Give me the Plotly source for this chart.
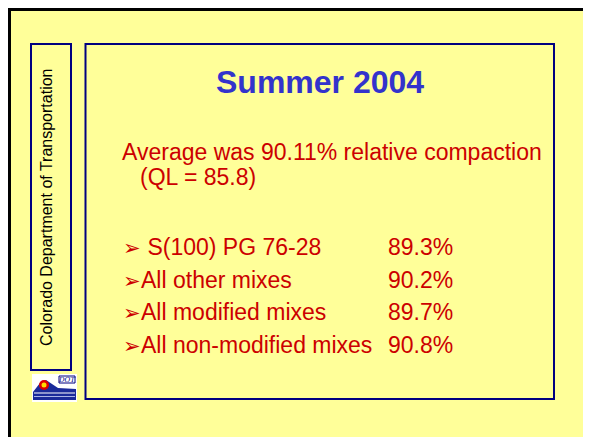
import plotly.graph_objects as go

# slide content
title = "Summer 2004"
intro_lines = ["Average was 90.11% relative compaction", "(QL = 85.8)"]
mix_labels = [" S(100) PG 76-28", "All other mixes", "All modified mixes", "All non-modified mixes"]
mix_values = ["89.3%", "90.2%", "89.7%", "90.8%"]
side_label = "Colorado Department of Transportation"

BG = "#FFFF99"
NAVY = "#000080"
RED = "#CC0000"
BLUE = "#3333CC"
FONT = "Liberation Sans, Arial, sans-serif"

# page body has an 8px margin: shrink the figure so the page does not scroll,
# and offset the axes so data coords equal window pixel coords
OFF = 8
W, H = 591, 445
FIG_W, FIG_H = W - OFF, H - 2 * OFF

fig = go.Figure()

shapes = [
    # outer slide frame (only top/left visible)
    dict(type="path", path="M 9.5 460 L 9.5 9.5 L 610 9.5", line=dict(color="black", width=3)),
    # side box
    dict(type="rect", x0=31, y0=44, x1=71, y1=370, line=dict(color=NAVY, width=2)),
    # main box
    dict(type="rect", x0=85.5, y0=44, x1=554, y1=399, line=dict(color=NAVY, width=2)),
    # logo
    dict(type="rect", x0=32, y0=374, x1=77, y1=402, fillcolor="white", line=dict(width=0)),
    dict(type="path", path="M 33 392 L 40 383 L 46 380 L 52 384 L 58 388 L 76 389 L 76 400 L 33 400 Z",
         fillcolor="#1a2a9a", line=dict(width=0)),
    dict(type="line", x0=34, y0=393, x1=75, y1=393, line=dict(color="white", width=1)),
    dict(type="line", x0=34, y0=396.5, x1=75, y1=396.5, line=dict(color="#aab4e6", width=1)),
    dict(type="circle", x0=39, y0=380, x1=49, y1=390, fillcolor="#dd0000", line=dict(width=0)),
    dict(type="circle", x0=41.5, y0=382.5, x1=46.5, y1=387.5, fillcolor="#ffdd00", line=dict(width=0)),
    dict(type="rect", x0=59, y0=376, x1=75, y1=383, fillcolor="white", line=dict(color=NAVY, width=1)),
]

annotations = [
    dict(x=320, y=82, text="<b>" + title + "</b>", font=dict(size=32, color=BLUE, family=FONT),
         xanchor="center", yanchor="middle"),
    dict(x=120, y=152, text=intro_lines[0], font=dict(size=23, color=RED, family=FONT),
         xanchor="left", yanchor="middle"),
    dict(x=138, y=177, text=intro_lines[1], font=dict(size=23, color=RED, family=FONT),
         xanchor="left", yanchor="middle"),
    dict(x=46, y=208, text=side_label, textangle=-90, font=dict(size=16, color="black", family=FONT),
         xanchor="center", yanchor="middle"),
    dict(x=67, y=379.5, text="<i>DOT</i>", font=dict(size=7, color=NAVY, family="DejaVu Serif"),
         xanchor="center", yanchor="middle"),
]

for i, (lab, val) in enumerate(zip(mix_labels, mix_values)):
    y = 247 + i * 32.7
    annotations.append(dict(x=121, y=y, text="<span style='font-size:21px'>➢</span>" + lab,
                            font=dict(size=23, color=RED, family=FONT), xanchor="left", yanchor="middle"))
    annotations.append(dict(x=386, y=y, text=val, font=dict(size=23, color=RED, family=FONT),
                            xanchor="left", yanchor="middle"))

for a in annotations:
    a.update(showarrow=False, xref="x", yref="y")

fig.update_layout(
    width=FIG_W, height=FIG_H,
    margin=dict(l=0, r=0, t=0, b=0),
    paper_bgcolor=BG, plot_bgcolor=BG,
    xaxis=dict(range=[OFF, W], visible=False, fixedrange=True),
    yaxis=dict(range=[H - OFF, OFF], visible=False, fixedrange=True),
    shapes=shapes, annotations=annotations,
    showlegend=False,
)

fig.write_html("out.html", config={"displayModeBar": False, "responsive": False},
               default_width=f"{FIG_W}px", default_height=f"{FIG_H}px")
